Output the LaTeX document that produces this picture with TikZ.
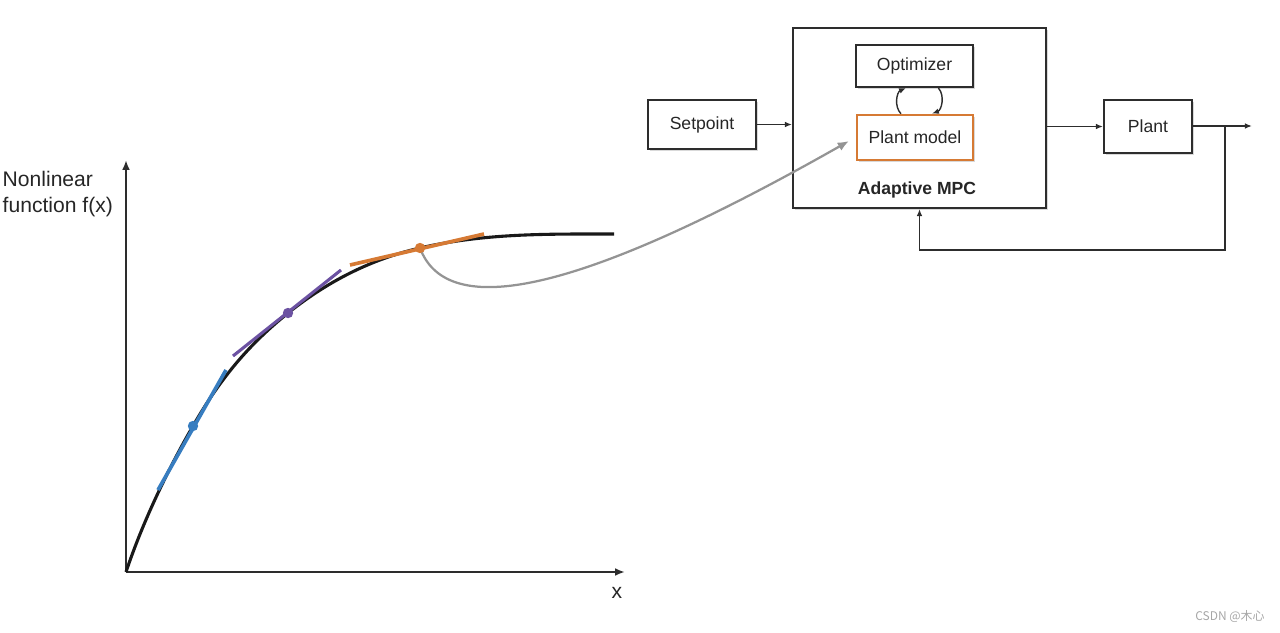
\documentclass[tikz,border=0pt]{standalone}
\usepackage{fontspec}
\setmainfont{Liberation Sans}
\newfontfamily\cjk{Noto Sans CJK SC}
\usepackage{tikz}
\usetikzlibrary{hobby}
\usetikzlibrary{positioning}
\usetikzlibrary{arrows.meta,shadows}
\definecolor{tanblue}{RGB}{55,125,192}
\definecolor{tanpurple}{RGB}{108,82,162}
\definecolor{tanorange}{RGB}{214,122,52}
\definecolor{boxline}{RGB}{45,45,45}

\begin{document}
\begin{tikzpicture}[
x=0.025cm, y=-0.025cm,
every path/.style={line width=1pt},
box/.style={rectangle, draw=boxline, line width=1.4pt, fill=white, inner sep=0,
  font=\fontsize{12.5}{14}\selectfont, text=black!85,
  drop shadow={shadow xshift=1.2pt, shadow yshift=-1.2pt, opacity=0.3}},
conn/.style={draw=boxline, line width=1pt, -{Latex[length=5pt,width=4pt]}},
axis/.style={draw=boxline, line width=1.4pt, -{Latex[length=7pt,width=5.5pt]}},
tanline/.style={line width=2.6pt},
dot/.style={circle, inner sep=0, minimum size=0.26cm},
lbl/.style={font=\fontsize{15}{18}\selectfont, text=black!85, inner sep=0}
]
\useasboundingbox (0,0) rectangle (1280,632);

% axes and labels
\coordinate (o) at (126,572);
\draw[axis] (o) -- (126,160);
\draw[axis] (o) -- (625,572);
\node[lbl, anchor=north west, align=left] (ylab) at (2,171) {Nonlinear\\function f(x)};
\node[lbl] (xlab) at (617,593) {x};

% nonlinear curve
\draw[line width=2.2pt, black!90] (126,572)
  .. controls (144,518) and (171,464) .. (193,426)
  .. controls (225,370) and (256,339) .. (288,313)
  .. controls (332,278) and (376,258) .. (420,248)
  .. controls (485,233) and (549,234) .. (614,234);

% local linearisations
\draw[tanline, tanblue] (158,490) -- (226,370);
\draw[tanline, tanpurple, line width=2.2pt] (233,356) -- (341,270);
\draw[tanline, tanorange] (350,265) -- (484,234);

% block diagram
\node[box, minimum width=6.325cm, minimum height=4.5cm] (mpc) at (919.5,118) {};
\node[font=\bfseries\fontsize{12.5}{14}\selectfont, text=black!85] (mpclab) at (917,190) {Adaptive MPC};
\node[box, minimum width=2.925cm, minimum height=1.05cm] (opt) at (914.5,66) {Optimizer};
\node[box, draw=tanorange, line width=1.8pt, minimum width=2.9cm, minimum height=1.125cm] (pm) at (915,137.5) {Plant model};
\node[box, minimum width=2.7cm, minimum height=1.225cm] (sp) at (702,124.5) {Setpoint};
\node[box, minimum width=2.2cm, minimum height=1.325cm] (pl) at (1148,126.5) {Plant};

\draw[conn] ([xshift=-10]pm.north) to[bend left=55] ([xshift=-6]opt.south);
\draw[conn] ([xshift=17]opt.south) to[bend left=55] ([xshift=12]pm.north);
\draw[conn] (sp.east) -- (sp.east -| mpc.west);
\draw[conn] (pl.west -| mpc.east) -- (pl.west);
\coordinate (out) at (1252,126);
\coordinate (br) at (1225,126);
\coordinate (fb) at (1225,250);
\draw[conn] (pl.east |- out) -- (out);
\draw[conn] (br) -- (fb) -| (mpc.south);

% curve point to plant model
\coordinate (tgt) at (849,141);
\draw[draw=black!42, line width=1.6pt, -{Latex[length=8pt,width=6.5pt]}] (420,248) .. controls (445,315) and (560,305) .. (tgt);

% operating points
\node[dot, fill=tanblue] (pb) at (193,426) {};
\node[dot, fill=tanpurple] (pp) at (288,313) {};
\node[dot, fill=tanorange] (po) at (420,248) {};

\node[font=\cjk\fontsize{8.5}{10}\selectfont, text=black!35] (wm) at (1230,617) {CSDN @木心};
\end{tikzpicture}
\end{document}
